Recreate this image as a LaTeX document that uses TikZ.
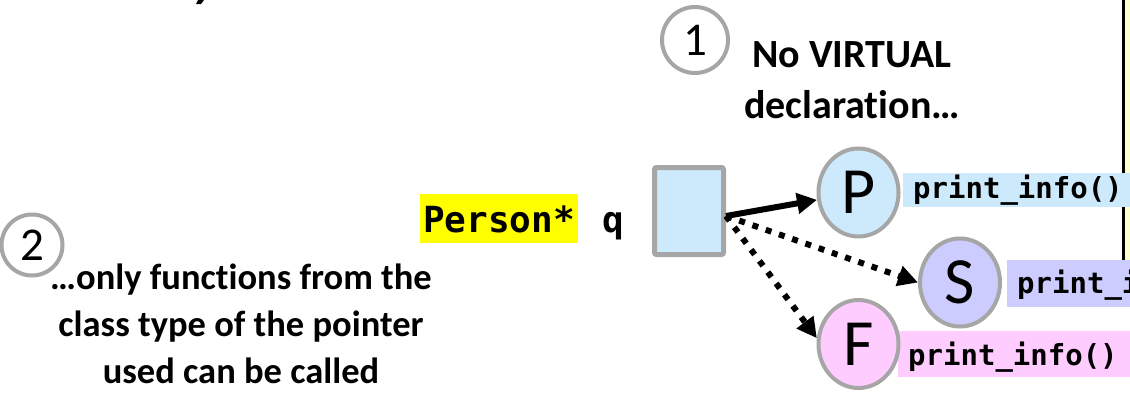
\documentclass[tikz,border=0pt]{standalone}
\usepackage{fontspec}
\setmainfont{Carlito}[Ligatures=NoCommon]
\newfontfamily\monofam{DejaVu Sans Mono}
\usetikzlibrary{arrows.meta,shapes.geometric}
\definecolor{ringgray}{HTML}{A6A6A6}
\definecolor{pblue}{RGB}{204,234,252}
\definecolor{spurple}{HTML}{CCCCFF}
\definecolor{fpink}{HTML}{FFCCFF}
\definecolor{hlyellow}{HTML}{FFFF00}
\definecolor{boxyellow}{HTML}{FFFFCC}
\begin{document}
\begin{tikzpicture}[x=1pt,y=-1pt,
  numcirc/.style={circle, draw=ringgray, line width=4pt, fill=white, inner sep=0pt,
    font=\fontsize{47}{47}\selectfont},
  classc/.style={ellipse, draw=ringgray, line width=4pt, inner sep=0pt,
    minimum width=80pt, minimum height=88pt, font=\fontsize{66}{66}\selectfont},
  codelbl/.style={anchor=base west, text width=240pt, align=left, inner xsep=10pt,
    font=\monofam\bfseries\fontsize{29}{30}\selectfont},
  note/.style={align=center, inner sep=0pt, font=\bfseries\fontsize{36.5}{47}\selectfont},
  solidarrow/.style={line width=6pt, -{Triangle[length=20pt,width=20pt]}},
  dotarrow/.style={line width=6pt, dash pattern=on 6pt off 8pt,
    -{Triangle[length=20pt,width=20pt]}}
]
\clip (0,0) rectangle (1130,392);
\fill[white] (0,0) rectangle (1130,392);

% fragment of cut-off text at the top
\fill (198,0) -- (204,0) -- (201,4) -- (196,4) -- cycle;

% yellow box at right edge
\draw[fill=boxyellow, line width=2.5pt] (1123.5,-10) rectangle (1160,290);

% pointer variable
\node[fill=hlyellow, anchor=base, inner xsep=3pt, inner ysep=11pt, text height=27pt, text depth=0pt,
  font=\monofam\bfseries\fontsize{36}{36}\selectfont] (ptype) at (499,232) {Person*};
\node[anchor=base, inner sep=0pt, font=\monofam\bfseries\fontsize{36}{36}\selectfont] (qname) at (613,232) {q};
\node[draw=ringgray, fill=pblue, line width=5pt, rounded corners=2pt, minimum width=69pt,
  minimum height=87pt, inner sep=0pt] (qbox) at (689,211) {};
\coordinate (qs) at (726,216);

% code labels
\node[codelbl, fill=pblue, text height=20pt, text depth=4pt, inner ysep=5pt] (plbl) at (903,198) {print\_info()};
\node[codelbl, fill=spurple, text height=26pt, text depth=7pt, inner ysep=7pt] (slbl) at (1007,293) {print\_info()};
\node[codelbl, fill=fpink, text height=27pt, text depth=5pt, inner ysep=7pt] (flbl) at (898,365) {print\_info()};

% class circles
\node[classc, fill=pblue] (P) at (858.5,192.5) {P};
\node[classc, fill=spurple] (S) at (960,282.5) {S};
\node[classc, fill=fpink] (F) at (858.5,344) {F};

% arrows
\draw[solidarrow] (qs) -- (P);
\draw[dotarrow] (qs) -- (S.west);
\draw[dotarrow] (qs) -- (F.172);

% numbered circles
\node[numcirc, minimum size=66pt] (one) at (695,40) {1};
\node[numcirc, minimum size=61pt] (two) at (32,245) {2};

% notes
\node[note, font=\bfseries\fontsize{40}{51}\selectfont] (note1) at (852,80) {No VIRTUAL\\declaration…};
\node[note] (note2) at (241,324) {…only functions from the\\class type of the pointer\\used can be called};
\end{tikzpicture}
\end{document}
